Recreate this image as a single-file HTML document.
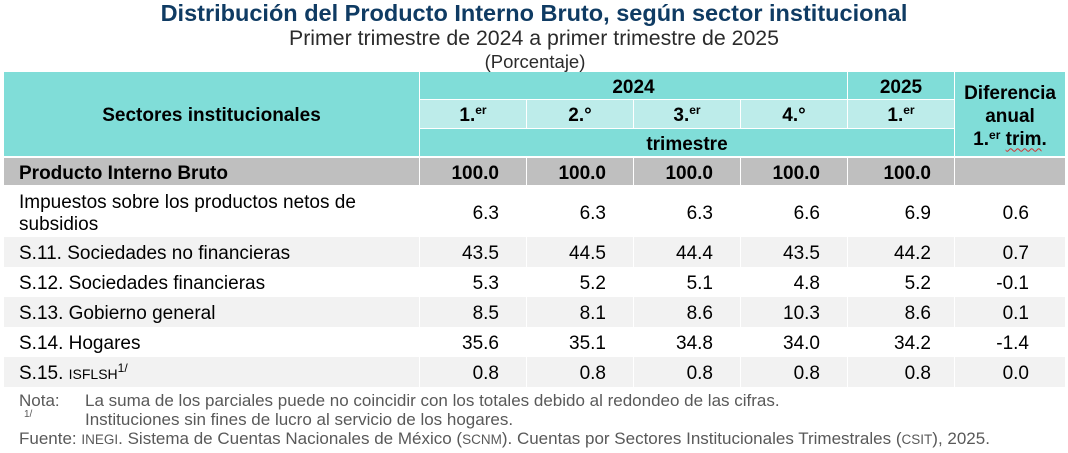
<!DOCTYPE html>
<html><head><meta charset="utf-8">
<style>
*{margin:0;padding:0;box-sizing:border-box}
html,body{width:1068px;height:453px;background:#fff;overflow:hidden}
body{position:relative;font-family:"Liberation Sans",Arial,sans-serif;color:#000}
.a{position:absolute;white-space:nowrap}
.c{position:absolute;display:flex;align-items:center;justify-content:center;font-size:19px;padding-top:4px;white-space:nowrap;line-height:22px}
.t{background:#80ddd8}
.l{background:#bdecea}
.g{background:#bfbfbf}
.z{background:#f2f2f2}
.b{font-weight:bold}
.r{justify-content:flex-end;padding-right:27px}
.r5{justify-content:flex-end;padding-right:23px}
.r6{justify-content:flex-end;padding-right:36px}
.lf{justify-content:flex-start;padding-left:15px}
.e{font-size:12px;position:relative;top:-6px}
.sc{font-size:14px}
.wv{text-decoration:underline wavy #d03030;text-decoration-thickness:1px;text-underline-offset:3px}
.fn{position:absolute;font-size:17px;color:#595959;white-space:nowrap;line-height:19px}
</style>
</head><body>

<div class="a b" style="left:0;top:0;width:1068px;text-align:center;font-size:23.5px;line-height:26px;color:#0f3b63">Distribución del Producto Interno Bruto, según sector institucional</div>
<div class="a" style="left:0;top:27px;width:1068px;text-align:center;font-size:21.3px;line-height:22px;color:#2b2b2b">Primer trimestre de 2024 a primer trimestre de 2025</div>
<div class="a" style="left:0;top:51px;width:1070px;text-align:center;font-size:18.5px;line-height:22px;color:#2b2b2b">(Porcentaje)</div>

<!-- header -->
<div class="c t b" style="left:4px;top:72px;width:415px;height:84px">Sectores institucionales</div>
<div class="c t b" style="left:420px;top:72px;width:427px;height:27px">2024</div>
<div class="c t b" style="left:848px;top:72px;width:106px;height:27px">2025</div>
<div class="c t b" style="left:955px;top:72px;width:110px;height:84px;flex-direction:column;padding-top:6px;line-height:23px">
  <div>Diferencia</div><div>anual</div><div>1.<span class="e">er</span> <span class="wv">trim</span>.</div>
</div>
<div class="c l b" style="left:420px;top:100px;width:106px;height:28px">1.<span class="e">er</span></div>
<div class="c l b" style="left:527px;top:100px;width:106px;height:28px">2.°</div>
<div class="c l b" style="left:634px;top:100px;width:106px;height:28px">3.<span class="e">er</span></div>
<div class="c l b" style="left:741px;top:100px;width:106px;height:28px">4.°</div>
<div class="c l b" style="left:848px;top:100px;width:106px;height:28px">1.<span class="e">er</span></div>
<div class="c t b" style="left:420px;top:129px;width:534px;height:27px">trimestre</div>

<!-- PIB row -->
<div class="c g b lf" style="left:4px;top:158px;width:415px;height:27px">Producto Interno Bruto</div>
<div class="c g b r" style="left:420px;top:158px;width:106px;height:27px">100.0</div>
<div class="c g b r" style="left:527px;top:158px;width:106px;height:27px">100.0</div>
<div class="c g b r" style="left:634px;top:158px;width:106px;height:27px">100.0</div>
<div class="c g b r" style="left:741px;top:158px;width:106px;height:27px">100.0</div>
<div class="c g b r5" style="left:848px;top:158px;width:106px;height:27px">100.0</div>
<div class="c g" style="left:955px;top:158px;width:110px;height:27px"></div>

<!-- Impuestos -->
<div class="c lf" style="left:4px;top:185px;width:415px;height:52px;padding-top:6px;white-space:normal">Impuestos sobre los productos netos de<br>subsidios</div>
<div class="c r" style="left:420px;top:185px;width:106px;height:52px;padding-top:6px">6.3</div>
<div class="c r" style="left:527px;top:185px;width:106px;height:52px;padding-top:6px">6.3</div>
<div class="c r" style="left:634px;top:185px;width:106px;height:52px;padding-top:6px">6.3</div>
<div class="c r" style="left:741px;top:185px;width:106px;height:52px;padding-top:6px">6.6</div>
<div class="c r5" style="left:848px;top:185px;width:106px;height:52px;padding-top:6px">6.9</div>
<div class="c r6" style="left:955px;top:185px;width:110px;height:52px;padding-top:6px">0.6</div>

<!-- S.11 -->
<div class="c z lf" style="left:4px;top:237px;width:415px;height:30px">S.11. Sociedades no financieras</div>
<div class="c z r" style="left:420px;top:237px;width:106px;height:30px">43.5</div>
<div class="c z r" style="left:527px;top:237px;width:106px;height:30px">44.5</div>
<div class="c z r" style="left:634px;top:237px;width:106px;height:30px">44.4</div>
<div class="c z r" style="left:741px;top:237px;width:106px;height:30px">43.5</div>
<div class="c z r5" style="left:848px;top:237px;width:106px;height:30px">44.2</div>
<div class="c z r6" style="left:955px;top:237px;width:110px;height:30px">0.7</div>

<!-- S.12 -->
<div class="c lf" style="left:4px;top:267px;width:415px;height:30px">S.12. Sociedades financieras</div>
<div class="c r" style="left:420px;top:267px;width:106px;height:30px">5.3</div>
<div class="c r" style="left:527px;top:267px;width:106px;height:30px">5.2</div>
<div class="c r" style="left:634px;top:267px;width:106px;height:30px">5.1</div>
<div class="c r" style="left:741px;top:267px;width:106px;height:30px">4.8</div>
<div class="c r5" style="left:848px;top:267px;width:106px;height:30px">5.2</div>
<div class="c r6" style="left:955px;top:267px;width:110px;height:30px">-0.1</div>

<!-- S.13 -->
<div class="c z lf" style="left:4px;top:297px;width:415px;height:30px">S.13. Gobierno general</div>
<div class="c z r" style="left:420px;top:297px;width:106px;height:30px">8.5</div>
<div class="c z r" style="left:527px;top:297px;width:106px;height:30px">8.1</div>
<div class="c z r" style="left:634px;top:297px;width:106px;height:30px">8.6</div>
<div class="c z r" style="left:741px;top:297px;width:106px;height:30px">10.3</div>
<div class="c z r5" style="left:848px;top:297px;width:106px;height:30px">8.6</div>
<div class="c z r6" style="left:955px;top:297px;width:110px;height:30px">0.1</div>

<!-- S.14 -->
<div class="c lf" style="left:4px;top:327px;width:415px;height:30px">S.14. Hogares</div>
<div class="c r" style="left:420px;top:327px;width:106px;height:30px">35.6</div>
<div class="c r" style="left:527px;top:327px;width:106px;height:30px">35.1</div>
<div class="c r" style="left:634px;top:327px;width:106px;height:30px">34.8</div>
<div class="c r" style="left:741px;top:327px;width:106px;height:30px">34.0</div>
<div class="c r5" style="left:848px;top:327px;width:106px;height:30px">34.2</div>
<div class="c r6" style="left:955px;top:327px;width:110px;height:30px">-1.4</div>

<!-- S.15 -->
<div class="c z lf" style="left:4px;top:357px;width:415px;height:30px">S.15.&nbsp;<span class="sc">ISFLSH</span><span style="font-size:12px;position:relative;top:-6px">1/</span></div>
<div class="c z r" style="left:420px;top:357px;width:106px;height:30px">0.8</div>
<div class="c z r" style="left:527px;top:357px;width:106px;height:30px">0.8</div>
<div class="c z r" style="left:634px;top:357px;width:106px;height:30px">0.8</div>
<div class="c z r" style="left:741px;top:357px;width:106px;height:30px">0.8</div>
<div class="c z r5" style="left:848px;top:357px;width:106px;height:30px">0.8</div>
<div class="c z r6" style="left:955px;top:357px;width:110px;height:30px">0.0</div>

<!-- footnotes -->
<div class="fn" style="left:19px;top:391px">Nota:</div>
<div class="fn" style="left:85px;top:391px">La suma de los parciales puede no coincidir con los totales debido al redondeo de las cifras.</div>
<div class="fn" style="left:24px;top:405px;font-size:10px">1/</div>
<div class="fn" style="left:85px;top:410px">Instituciones sin fines de lucro al servicio de los hogares.</div>
<div class="fn" style="left:19px;top:429px">Fuente: <span style="font-size:13.5px">INEGI</span>. Sistema de Cuentas Nacionales de México (<span style="font-size:13.5px">SCNM</span>). Cuentas por Sectores Institucionales Trimestrales (<span style="font-size:13.5px">CSIT</span>), 2025.</div>

</body></html>
